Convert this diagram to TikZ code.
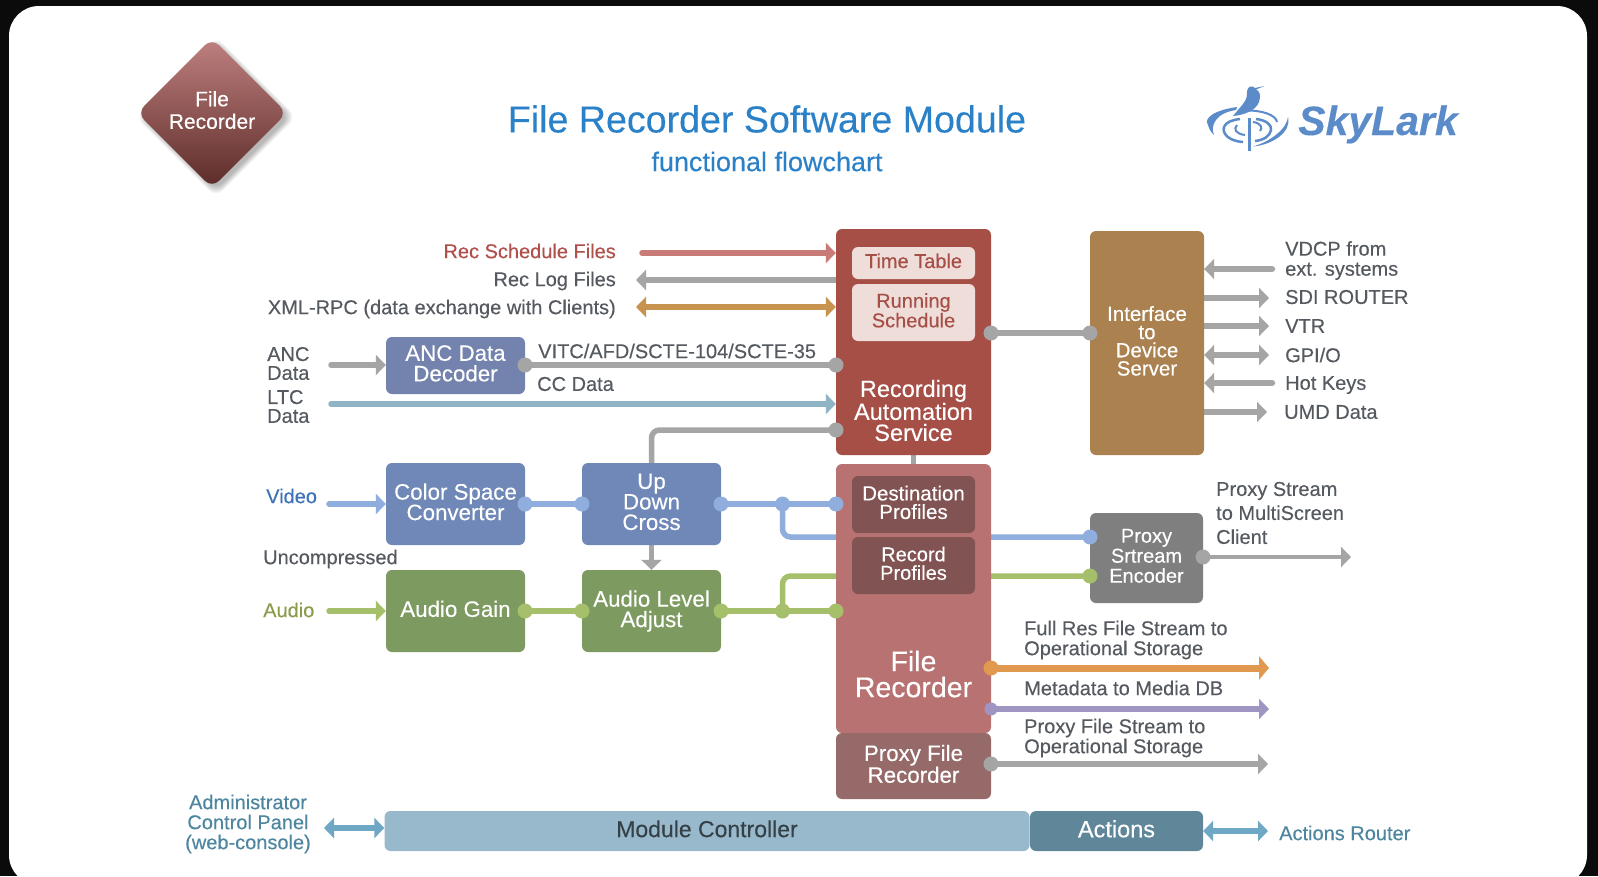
\documentclass[tikz,border=0pt]{standalone}
\usepackage{fontspec}
\setmainfont{Liberation Sans}[FakeBold=0.25]
\usepackage{xcolor}
\usepackage{tikz}
\usetikzlibrary{arrows.meta, backgrounds, shadows, shapes.geometric}

\definecolor{cardblack}{HTML}{0B0B0B}
\definecolor{titleblue}{HTML}{2B81C8}
\definecolor{logoblue}{HTML}{5B8BC9}
\definecolor{textgray}{HTML}{555A60}
\definecolor{rasred}{HTML}{A64F47}
\definecolor{recrose}{HTML}{B87272}
\definecolor{profdark}{HTML}{825353}
\definecolor{proxyrose}{HTML}{976A6A}
\definecolor{paper}{HTML}{EFDDDA}
\definecolor{boxblue}{HTML}{6F88B8}
\definecolor{ancblue}{HTML}{7383AD}
\definecolor{boxgreen}{HTML}{7D9A60}
\definecolor{boxbrown}{HTML}{AA814F}
\definecolor{boxgray}{HTML}{7F7F7F}
\definecolor{ctrlblue}{HTML}{98B8CB}
\definecolor{actblue}{HTML}{5F8699}
\definecolor{pipegray}{HTML}{A5A5A5}
\definecolor{pipeblue}{HTML}{8FAEDD}
\definecolor{pipegreen}{HTML}{A6BF6B}
\definecolor{pipeorange}{HTML}{E0994F}
\definecolor{pipepurple}{HTML}{9F94C2}
\definecolor{piperose}{HTML}{C97B78}
\definecolor{pipetan}{HTML}{C8924F}
\definecolor{pipeteal}{HTML}{8FB4C6}
\definecolor{pipectrl}{HTML}{6FA8C4}
\definecolor{labelred}{HTML}{B0504C}
\definecolor{labelblue}{HTML}{3E73B8}
\definecolor{labelgreen}{HTML}{8A9B4C}
\definecolor{labelteal}{HTML}{4E86A0}

\tikzset{
    block/.style={rounded corners=6pt, fill=#1, text=white, align=center, inner sep=0pt, text depth=4.5pt,
        font=\fontsize{22.3}{20.5}\selectfont},
    lbl/.style={inner sep=0pt, align=left, text=textgray, font=\fontsize{20}{20}\selectfont},
    dot/.style={circle, fill=#1, minimum size=15pt, inner sep=0pt},
    pipe/.style={line width=5.5pt, draw=#1, line cap=round, rounded corners=8pt},
    arrowr/.style={pipe=#1, -{Triangle[length=10pt,width=20pt]}},
    arrowb/.style={pipe=#1, {Triangle[length=10pt,width=20pt]}-{Triangle[length=10pt,width=20pt]}}
}

\begin{document}
\begin{tikzpicture}[x=1pt, y=-1pt]
    \useasboundingbox (0,0) rectangle (1598,876);
    \begin{pgfonlayer}{background}
        \fill[cardblack] (0,0) rectangle (1598,876);
        \fill[white, rounded corners=30pt] (9,6) rectangle (1587,885);
        \foreach \grow in {0,3,...,15}
            \node[diamond, minimum width=146pt+\grow pt, minimum height=146pt+\grow pt, rounded corners=10pt,
                fill=black, fill opacity=0.05] (iconshadow\grow) at (216,117) {};
    \end{pgfonlayer}

    \node[diamond, minimum width=150pt, minimum height=150pt, inner sep=0pt, rounded corners=10pt,
        top color=recrose!90!white, bottom color=rasred!55!black] (fileicon) at (212,113) {};
    \node[text=white, align=center, inner sep=0pt, font=\fontsize{21}{22.5}\selectfont] (fileiconlbl) at (212,110) {File\\Recorder};

    \node[text=titleblue, inner sep=0pt, font=\fontsize{37.6}{38}\selectfont] (title) at (767,119) {File Recorder Software Module};
    \node[text=titleblue, inner sep=0pt, font=\fontsize{27}{28}\selectfont] (subtitle) at (767,161.5) {functional flowchart};

    % logo
    \node[text=logoblue, anchor=base west, inner sep=0pt, font=\fontsize{41}{42}\selectfont\bfseries\itshape] (skylark) at (1298,135) {SkyLark};
    \fill[logoblue] (1264.5,86) -- (1255,88) .. controls (1252,85) and (1248,86) .. (1247,91)
        .. controls (1247,96) and (1247,99) .. (1243,104) -- (1233,116)
        .. controls (1245,115) and (1256,110) .. (1259,102)
        .. controls (1261,96) and (1260,91) .. (1256,89.5) -- cycle;
    \fill[logoblue] (1248,118) rectangle (1250.5,151);
    \fill[logoblue] (1237,107) .. controls (1215,110) and (1203,118) .. (1208,125)
        .. controls (1209,129) and (1211,132) .. (1214,135)
        .. controls (1210,125) and (1216,113) .. (1236,110) -- cycle;
    \fill[logoblue] (1253,146.5) .. controls (1272,145) and (1292,132) .. (1288,117)
        .. controls (1287,128) and (1272,141) .. cycle;
    \draw[logoblue, line width=2pt] (1245,110.5) .. controls (1262,110) and (1276,115) .. (1277,122);
    \draw[logoblue, line width=2.5pt] (1243,142) .. controls (1228,141) and (1222,133) .. (1224,127)
        .. controls (1226,122) and (1232,120) .. (1240,119);
    \draw[logoblue, line width=2.5pt] (1256,119) .. controls (1266,120) and (1272,125) .. (1271,130)
        .. controls (1270,136) and (1264,140) .. (1255,141);
    \draw[logoblue, line width=2pt] (1245,135) .. controls (1236,134) and (1233,129) .. (1237,125);
    \draw[logoblue, line width=2pt] (1253,122) .. controls (1261,123) and (1263,128) .. (1260,131);

    % left column
    \node[block=ancblue, minimum width=139pt, minimum height=57pt] (ancdec) at (455.5,365.5) {ANC Data\\Decoder};
    \node[block=boxblue, minimum width=139pt, minimum height=82pt] (csc) at (455.5,504) {Color Space\\Converter};
    \node[block=boxblue, minimum width=139pt, minimum height=82pt] (udc) at (651.5,504) {Up\\Down\\Cross};
    \node[block=boxgreen, minimum width=139pt, minimum height=82pt] (again) at (455.5,611) {Audio Gain};
    \node[block=boxgreen, minimum width=139pt, minimum height=82pt] (alevel) at (651.5,611) {Audio Level\\Adjust};

    % middle column
    \node[block=rasred, minimum width=155pt, minimum height=226pt] (ras) at (913.5,342) {};
    \node[block=paper, text=rasred, minimum width=123pt, minimum height=32pt, font=\fontsize{20}{18}\selectfont] (timetable) at (913.5,263) {Time Table};
    \node[block=paper, text=rasred, minimum width=123pt, minimum height=57pt, font=\fontsize{20}{18}\selectfont] (running) at (913.5,312.5) {Running\\Schedule};
    \node[text=white, align=center, inner sep=0pt, font=\fontsize{23.5}{21}\selectfont] (raslbl) at (913.5,410.5) {Recording\\Automation\\Service};
    \node[block=recrose, minimum width=155pt, minimum height=269pt] (filerec) at (913.5,598.5) {};
    \node[block=profdark, minimum width=123pt, minimum height=57pt, font=\fontsize{20.5}{18.5}\selectfont] (destprof) at (913.5,504.5) {Destination\\Profiles};
    \node[block=profdark, minimum width=123pt, minimum height=57pt, font=\fontsize{20}{18.5}\selectfont] (recprof) at (913.5,565.5) {Record\\Profiles};
    \node[text=white, align=center, inner sep=0pt, font=\fontsize{28.5}{26}\selectfont] (filereclbl) at (913.5,674) {File\\Recorder};
    \node[block=proxyrose, minimum width=155pt, minimum height=66pt] (proxyrec) at (913.5,766) {Proxy File\\Recorder};

    % right column
    \node[block=boxbrown, minimum width=114pt, minimum height=224pt, font=\fontsize{20.5}{18.2}\selectfont] (iface) at (1147,343) {Interface\\to\\Device\\Server};
    \node[block=boxgray, minimum width=113pt, minimum height=90pt, font=\fontsize{20}{20}\selectfont] (proxyenc) at (1146.5,558) {Proxy\\Srtream\\Encoder};

    % bottom bar
    \node[block=ctrlblue, text=black!65!ctrlblue, minimum width=645pt, minimum height=40pt, font=\fontsize{23}{24}\selectfont] (modctl) at (707,831) {Module Controller};
    \node[block=actblue, minimum width=173pt, minimum height=40pt, font=\fontsize{23.5}{24}\selectfont] (actions) at (1116.5,831) {Actions};

    % labels
    \node[lbl, anchor=east, text=labelred] (lblsched) at (616,251) {Rec Schedule Files};
    \node[lbl, anchor=east] (lbllog) at (616,281) {Rec Log Files};
    \node[lbl, anchor=east] (lblxml) at (616,309) {XML-RPC (data exchange with Clients)};
    \node[lbl, anchor=west, font=\fontsize{20}{18.8}\selectfont] (lblanc) at (267,363.5) {ANC\\Data};
    \node[lbl, anchor=west, font=\fontsize{20}{18.8}\selectfont] (lblltc) at (267,406.5) {LTC\\Data};
    \node[lbl, anchor=west] (lblvitc) at (538,351) {VITC/AFD/SCTE-104/SCTE-35};
    \node[lbl, anchor=west] (lblcc) at (537,384) {CC Data};
    \node[lbl, anchor=west, text=labelblue] (lblvideo) at (266,496) {Video};
    \node[lbl, anchor=west] (lbluncomp) at (263,559) {Uncompressed};
    \node[lbl, anchor=west, text=labelgreen] (lblaudio) at (263,610) {Audio};
    \node[lbl, anchor=west] (lblvdcp) at (1285,260.5) {VDCP from\\ext. systems};
    \node[lbl, anchor=west] (lblsdi) at (1285,297) {SDI ROUTER};
    \node[lbl, anchor=west] (lblvtr) at (1285,326) {VTR};
    \node[lbl, anchor=west] (lblgpio) at (1285,355) {GPI/O};
    \node[lbl, anchor=west] (lblkeys) at (1285,385) {Hot Keys};
    \node[lbl, anchor=west] (lblumd) at (1284,412) {UMD Data};
    \node[lbl, anchor=west, font=\fontsize{20}{24}\selectfont] (lblstream) at (1216,513) {Proxy Stream\\to MultiScreen\\Client};
    \node[lbl, anchor=west] (lblfull) at (1024,640) {Full Res File Stream to\\Operational Storage};
    \node[lbl, anchor=west] (lblmeta) at (1024,688) {Metadata to Media DB};
    \node[lbl, anchor=west] (lblpfile) at (1024,738) {Proxy File Stream to\\Operational Storage};
    \node[lbl, align=center, text=labelteal] (lbladmin) at (248,824) {Administrator\\Control Panel\\(web-console)};
    \node[lbl, anchor=west, text=labelteal] (lblrouter) at (1279,833) {Actions Router};

    % free ends
    \coordinate (schedin) at (642,253);
    \coordinate (logout) at (636,280);
    \coordinate (xmlend) at (636,307);
    \coordinate (ancin) at (331,365);
    \coordinate (ltcin) at (331,404);
    \coordinate (videoin) at (329,504);
    \coordinate (audioin) at (329,611);
    \coordinate (vdcpin) at (1272,269);
    \coordinate (sdiout) at (1269,298);
    \coordinate (vtrout) at (1269,326);
    \coordinate (gpioend) at (1269,355);
    \coordinate (keysin) at (1272,383);
    \coordinate (umdout) at (1267,412);
    \coordinate (streamout) at (1351,557);
    \coordinate (fullout) at (1269,668);
    \coordinate (metaout) at (1269,709);
    \coordinate (pfileout) at (1268,764);
    \coordinate (adminend) at (324,828);
    \coordinate (routerend) at (1268,831);

    % dots
    \node[dot=pipegray] (dancout) at (525,365) {};
    \node[dot=pipegray] (dancin) at (836,365) {};
    \node[dot=pipegray] (dcfgin) at (836,430) {};
    \node[dot=pipegray] (dsrvout) at (991,333) {};
    \node[dot=pipegray] (dsrvin) at (1090,333) {};
    \node[dot=pipeblue] (dcscout) at (525,504) {};
    \node[dot=pipeblue] (dudcin) at (582,504) {};
    \node[dot=pipeblue] (dudcout) at (721,504) {};
    \node[dot=pipeblue] (dvidsplit) at (782.5,504) {};
    \node[dot=pipeblue] (dvidin) at (836,504) {};
    \node[dot=pipeblue] (dencvid) at (1090,537) {};
    \node[dot=pipegreen] (dagout) at (525,611) {};
    \node[dot=pipegreen] (dalin) at (582,611) {};
    \node[dot=pipegreen] (dalout) at (721,611) {};
    \node[dot=pipegreen] (dausplit) at (782.5,611) {};
    \node[dot=pipegreen] (dauin) at (836,611) {};
    \node[dot=pipegreen] (dencaud) at (1090,576) {};
    \node[dot=pipegray] (dencout) at (1203,557) {};
    \node[dot=pipeorange] (dfull) at (991,668) {};
    \node[dot=pipepurple, minimum size=13pt] (dmeta) at (991,709) {};
    \node[dot=pipegray] (dpfile) at (991,764) {};

    \begin{pgfonlayer}{background}
        \draw[arrowr=piperose] (schedin) -- (ras.west |- schedin);
        \draw[arrowr=pipegray] (ras.west |- logout) -- (logout);
        \draw[arrowb=pipetan] (xmlend) -- (ras.west |- xmlend);
        \draw[arrowr=pipegray] (ancin) -- (ancdec.west |- ancin);
        \draw[pipe=pipegray] (dancout) -- (dancin);
        \draw[arrowr=pipeteal] (ltcin) -- (ras.west |- ltcin);
        \draw[pipe=pipegray] (dcfgin) -| (udc.north);
        \draw[pipe=pipegray] (ras.south) -- (filerec.north);
        \draw[pipe=pipegray] (dsrvout) -- (dsrvin);
        \draw[arrowr=pipeblue] (videoin) -- (csc.west |- videoin);
        \draw[pipe=pipeblue] (dcscout) -- (dudcin);
        \draw[pipe=pipeblue] (dudcout) -- (dvidin);
        \draw[pipe=pipeblue] (dvidsplit) |- (dencvid);
        \draw[arrowr=pipegreen] (audioin) -- (again.west |- audioin);
        \draw[pipe=pipegreen] (dagout) -- (dalin);
        \draw[pipe=pipegreen] (dalout) -- (dauin);
        \draw[pipe=pipegreen] (dausplit) |- (dencaud);
        \draw[arrowr=pipegray] (udc.south) -- (alevel.north);
        \draw[arrowr=pipegray, line width=6.5pt] (vdcpin) -- (iface.east |- vdcpin);
        \draw[arrowr=pipegray, line width=6.5pt] (iface.east |- sdiout) -- (sdiout);
        \draw[arrowr=pipegray, line width=6.5pt] (iface.east |- vtrout) -- (vtrout);
        \draw[arrowb=pipegray, line width=6.5pt] (iface.east |- gpioend) -- (gpioend);
        \draw[arrowr=pipegray, line width=6.5pt] (keysin) -- (iface.east |- keysin);
        \draw[arrowr=pipegray, line width=6.5pt] (iface.east |- umdout) -- (umdout);
        \draw[arrowr=pipegray, line width=4pt] (dencout) -- (streamout);
        \draw[arrowr=pipeorange, line width=7pt, -{Triangle[length=10pt,width=23pt]}] (dfull) -- (fullout);
        \draw[arrowr=pipepurple] (dmeta) -- (metaout);
        \draw[arrowr=pipegray] (dpfile) -- (pfileout);
        \draw[arrowb=pipectrl] (adminend) -- (modctl.west |- adminend);
        \draw[arrowb=pipectrl] (actions.east) -- (routerend);
    \end{pgfonlayer}
\end{tikzpicture}
\end{document}
